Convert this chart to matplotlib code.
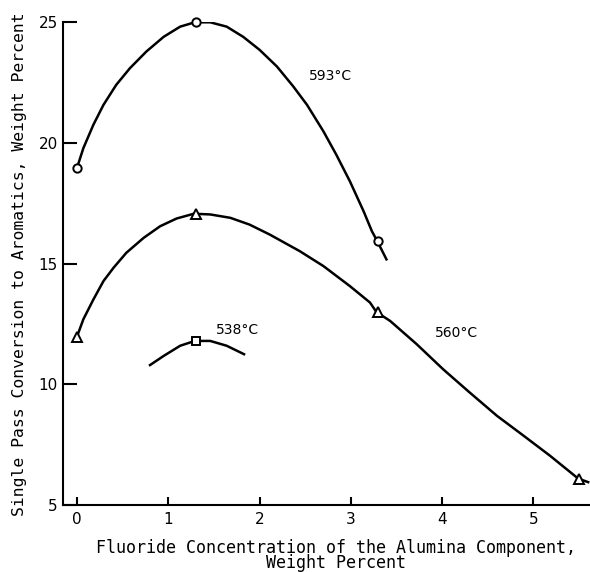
import matplotlib
matplotlib.use('Agg')
import matplotlib.pyplot as plt

# measured points (markers)
x_593 = [0.0, 1.3, 3.3]
y_593 = [18.97, 25.0, 15.93]
x_560 = [0.0, 1.3, 3.3, 5.5]
y_560 = [11.98, 17.07, 13.0, 6.1]
x_538 = [1.3]
y_538 = [11.8]

# hand-drawn curves
cx_593 = [0.0, 0.07, 0.18, 0.29, 0.43, 0.58, 0.76, 0.95, 1.13, 1.29, 1.46, 1.64, 1.82,
          2.0, 2.19, 2.37, 2.52, 2.70, 2.84, 2.99, 3.14, 3.23, 3.29, 3.39]
cy_593 = [18.97, 19.79, 20.76, 21.58, 22.41, 23.1, 23.79, 24.4, 24.82, 25.0, 25.0, 24.82, 24.4,
          23.86, 23.17, 22.34, 21.58, 20.48, 19.52, 18.41, 17.17, 16.35, 15.93, 15.18]
cx_560 = [0.0, 0.07, 0.18, 0.29, 0.40, 0.54, 0.73, 0.91, 1.09, 1.28, 1.46, 1.68, 1.89,
          2.11, 2.44, 2.70, 2.99, 3.21, 3.28, 3.43, 3.72, 4.01, 4.30, 4.60, 4.89, 5.18, 5.49, 5.60]
cy_560 = [11.98, 12.7, 13.52, 14.28, 14.83, 15.45, 16.07, 16.55, 16.87, 17.07, 17.04, 16.9, 16.62,
          16.21, 15.52, 14.9, 14.07, 13.39, 13.0, 12.63, 11.67, 10.63, 9.67, 8.7, 7.88, 7.05, 6.1, 5.95]
cx_538 = [0.80, 0.95, 1.13, 1.29, 1.46, 1.64, 1.83]
cy_538 = [10.8, 11.18, 11.6, 11.8, 11.8, 11.6, 11.25]

labels = ['593°C', '560°C', '538°C']
label_pos = [(2.78, 22.79), (4.16, 12.12), (1.76, 12.24)]

plt.figure(figsize=(5.9, 5.72), dpi=100)
ax = plt.axes([0.1073, 0.117, 0.8927, 0.844])

for cx, cy in [(cx_593, cy_593), (cx_560, cy_560), (cx_538, cy_538)]:
    ax.plot(cx, cy, color='black', lw=1.8, solid_joinstyle='round', zorder=2)
ax.plot(x_593, y_593, 'o', ms=6, mfc='white', mec='black', mew=1.4, zorder=3, clip_on=False)
ax.plot(x_560, y_560, '^', ms=6.5, mfc='white', mec='black', mew=1.4, zorder=3, clip_on=False)
ax.plot(x_538, y_538, 's', ms=5.5, mfc='white', mec='black', mew=1.4, zorder=3, clip_on=False)

for lab, (tx, ty) in zip(labels, label_pos):
    ax.text(tx, ty, lab, ha='center', va='center', fontsize=10)

ax.set_xlim(-0.15, 5.62)
ax.set_ylim(5, 25)
ax.set_xticks([0, 1, 2, 3, 4, 5])
ax.set_yticks([5, 10, 15, 20, 25])
ax.tick_params(axis='y', direction='in', length=10, width=1.5, labelsize=11, pad=4)
ax.tick_params(axis='x', direction='in', length=6, width=1.5, labelsize=11, pad=5)
for s in ['top', 'right']:
    ax.spines[s].set_visible(False)
for s in ['left', 'bottom']:
    ax.spines[s].set_linewidth(1.5)

ax.set_xlabel('Fluoride Concentration of the Alumina Component,\nWeight Percent',
              fontfamily='DejaVu Sans Mono', fontsize=12, linespacing=0.8)
ax.xaxis.set_label_coords(0.518, -0.07, transform=ax.transAxes)
ax.xaxis.label.set_va('top')
ax.set_ylabel('Single Pass Conversion to Aromatics, Weight Percent',
              fontfamily='DejaVu Sans Mono', fontsize=11.8, labelpad=8)

plt.savefig('out.png', dpi=100)
